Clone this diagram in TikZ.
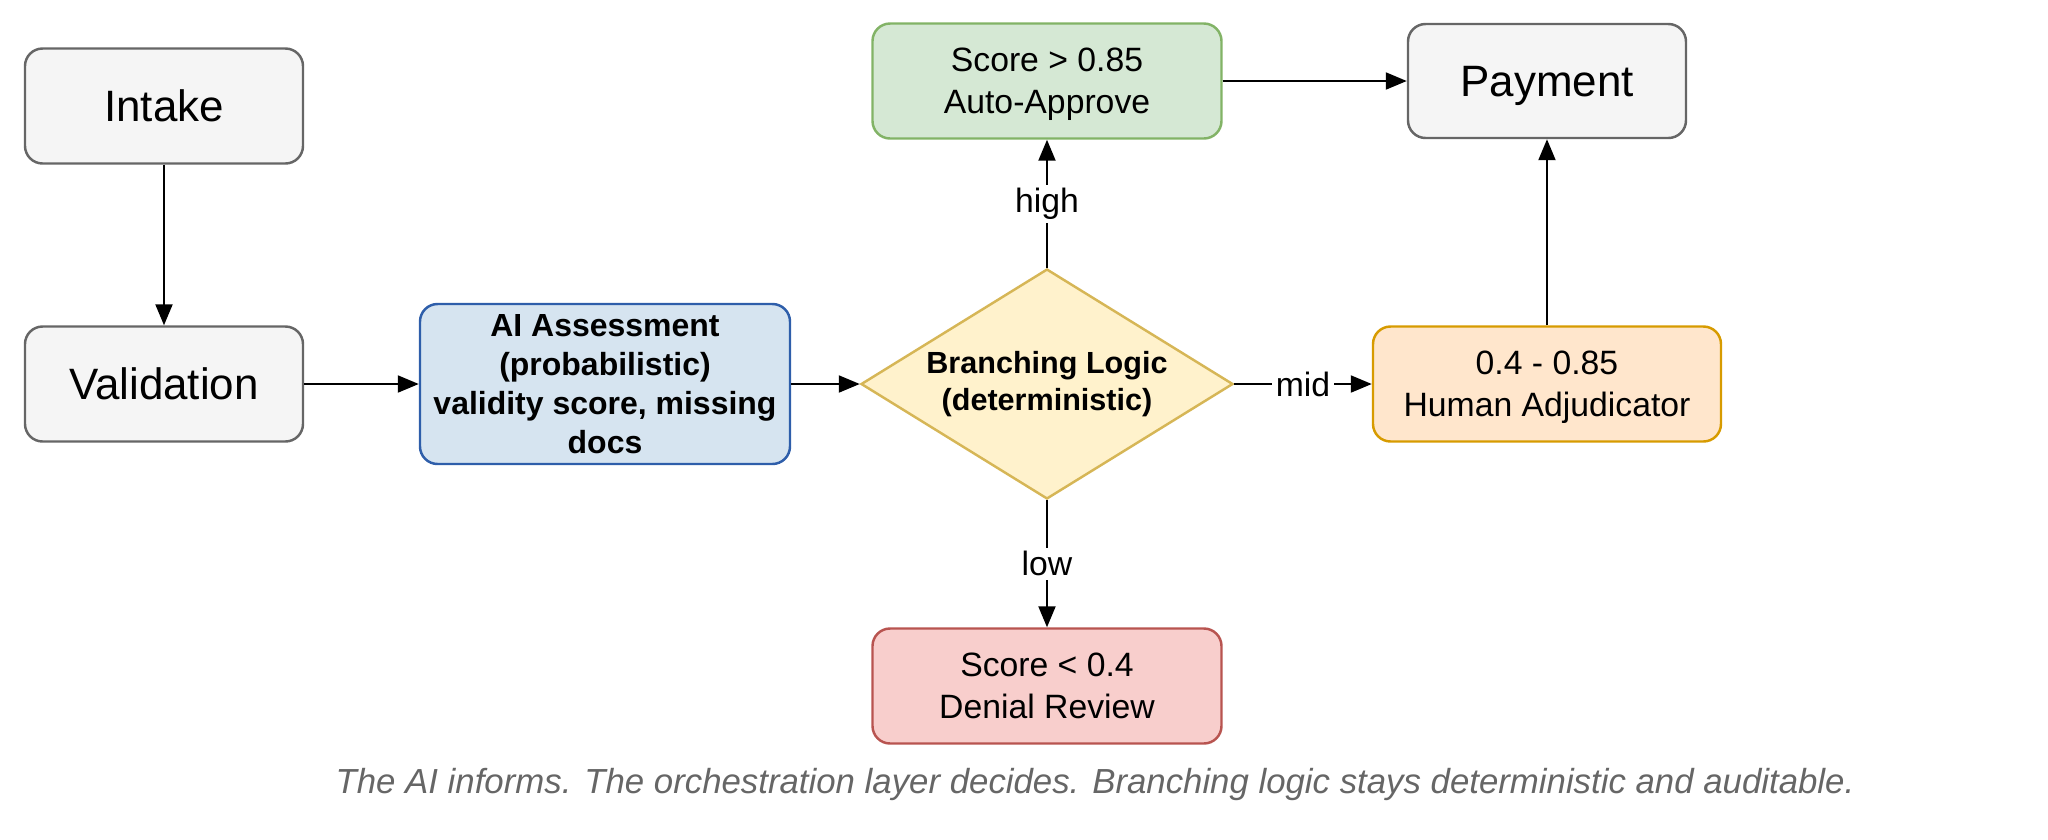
\documentclass[tikz,border=0pt]{standalone}
\usepackage{fontspec}
\setmainfont{Liberation Sans}
\usetikzlibrary{shapes.geometric,arrows.meta,positioning}

\definecolor{grayfill}{HTML}{F5F5F5}
\definecolor{graydraw}{HTML}{666666}
\definecolor{bluefill}{HTML}{D6E4F0}
\definecolor{bluedraw}{HTML}{2E5EAA}
\definecolor{greenfill}{HTML}{D5E8D4}
\definecolor{greendraw}{HTML}{82B366}
\definecolor{yellowfill}{HTML}{FFF2CC}
\definecolor{yellowdraw}{HTML}{D6B656}
\definecolor{orangefill}{HTML}{FFE6CC}
\definecolor{orangedraw}{HTML}{D79B00}
\definecolor{redfill}{HTML}{F8CECC}
\definecolor{reddraw}{HTML}{B85450}

\begin{document}
\begin{tikzpicture}

 \tikzset{
   stage/.style={rectangle, rounded corners=5pt, draw=graydraw, fill=grayfill, line width=0.7pt,
     minimum width=2.78cm, minimum height=1.15cm, text depth=0pt, font=\fontsize{12.5}{15}\selectfont},
   model/.style={rectangle, rounded corners=5pt, draw=bluedraw, fill=bluefill, line width=0.7pt,
     minimum width=3.7cm, minimum height=1.6cm, align=center, inner sep=1pt,
     font=\fontsize{9.1}{11.1}\selectfont\bfseries},
   gate/.style={diamond, draw=yellowdraw, fill=yellowfill, line width=0.7pt, aspect=1.62,
     minimum width=3.72cm, minimum height=2.3cm, inner sep=0pt, align=center,
     font=\fontsize{8.7}{10.6}\selectfont\bfseries},
   outcome/.style={rectangle, rounded corners=5pt, line width=0.7pt,
     minimum width=3.49cm, minimum height=1.15cm, align=center, text depth=0pt,
     font=\fontsize{9.6}{11.9}\selectfont},
   tag/.style={fill=white, inner sep=1pt, font=\fontsize{9.6}{11}\selectfont},
   arrow/.style={-{Triangle[length=2.1mm,width=1.7mm]}, line width=0.6pt}
 }

 % Frame
 \useasboundingbox (0,0) rectangle (20.48,-8.39);

 % Columns
 \def\xposIntake{1.64}
 \def\xposAssess{6.05}
 \def\xposBranch{10.47}
 \def\xposPay{15.47}

 % Rows
 \def\levelTop{-0.81}
 \def\levelIntake{-1.06}
 \def\levelMid{-3.84}
 \def\levelLow{-6.86}

 % Left column
 \node[stage] (intake) at (\xposIntake, \levelIntake) {Intake};
 \node[stage] (validation) at (\xposIntake, \levelMid) {Validation};

 % Assessment and branching
 \node[model] (assess) at (\xposAssess, \levelMid) {AI Assessment\\(probabilistic)\\validity score, missing\\docs};
 \node[gate] (branch) at (\xposBranch, \levelMid) {Branching Logic\\(deterministic)};

 % Outcomes
 \node[outcome, draw=greendraw, fill=greenfill] (approve) at (\xposBranch, \levelTop) {Score {>} 0.85\\Auto-Approve};
 \node[outcome, draw=orangedraw, fill=orangefill, minimum width=3.48cm] (human) at (\xposPay, \levelMid) {0.4 - 0.85\\Human Adjudicator};
 \node[outcome, draw=reddraw, fill=redfill] (denial) at (\xposBranch, \levelLow) {Score {<} 0.4\\Denial Review};
 \node[stage, minimum height=1.14cm] (payment) at (\xposPay, \levelTop) {Payment};

 % Arrows
 \draw[arrow] (intake) -- (validation);
 \draw[arrow] (validation) -- (assess);
 \draw[arrow] (assess) -- (branch);
 \draw[arrow] (branch) -- (approve) node[midway, tag] {high};
 \draw[arrow] (branch) -- (human) node[midway, tag] {mid};
 \draw[arrow] (branch) -- (denial) node[midway, tag] {low};
 \draw[arrow] (approve) -- (payment);
 \draw[arrow] (human) -- (payment);

 % Caption
 \node[font=\fontsize{9.9}{12}\selectfont\itshape, text=graydraw] (caption) at (10.95, -7.84)
   {The AI informs. The orchestration layer decides. Branching logic stays deterministic and auditable.};

\end{tikzpicture}
\end{document}
